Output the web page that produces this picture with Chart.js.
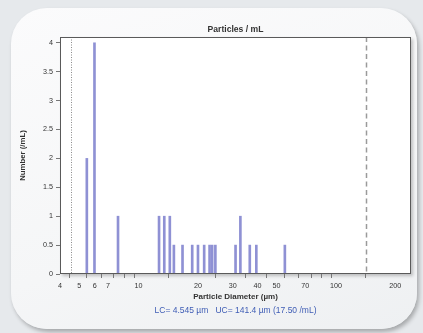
<!DOCTYPE html>
<html>
<head>
<meta charset="utf-8">
<script src="https://cdn.jsdelivr.net/npm/chart.js@4"></script>
<style>
  html, body { margin: 0; padding: 0; }
  body { width: 423px; height: 333px; background: #e6e9ec; position: relative; overflow: hidden; }
  #card {
    position: absolute; left: 11px; top: 8px; width: 406px; height: 321px;
    border-radius: 36px;
    background: linear-gradient(160deg, #fbfbfc 0%, #f5f6f7 60%, #eef0f2 100%);
    box-shadow: 2px 3px 4px rgba(0,0,0,0.28);
  }
  #wrap { position: absolute; left: 0; top: 0; width: 423px; height: 333px; }
</style>
</head>
<body>
<div id="card"></div>
<div id="wrap"><canvas id="chart" width="423" height="333"></canvas></div>
<script>
// Particle counts per diameter bin (µm, particles/mL)
const diameters = [5.47, 5.98, 7.87, 12.7, 13.5, 14.4, 15.1, 16.7, 18.7, 20.0, 21.5, 22.9, 23.6, 24.5, 31.0, 32.8, 36.6, 39.5, 55.1];
const counts    = [2,    4,    1,    1,    1,    1,    0.5,  0.5,  0.5,  0.5,  0.5,  0.5,  0.5,  0.5,  0.5,  1,    0.5,  0.5,  0.5];

// Axis ticks
const xTickValues = [4, 5, 6, 7, 8, 9, 10, 20, 30, 40, 50, 60, 70, 80, 90, 100, 200];
const xTickLabels = [4, 5, 6, 7, 10, 20, 30, 40, 50, 70, 100, 200];
const yTickValues = [0, 0.5, 1, 1.5, 2, 2.5, 3, 3.5, 4];

// Lower / upper counting limits
const lowerLimit = 4.545;
const upperLimit = 141.4;
const totalPerMl = 17.50;

const FONT = "'Liberation Sans', Arial, sans-serif";
const TEXT = '#333333';

const plotFrame = {
  id: 'plotFrame',
  beforeDraw(chart) {
    const { ctx, chartArea: a } = chart;
    ctx.save();
    ctx.shadowColor = 'rgba(0,0,0,0.22)';
    ctx.shadowBlur = 3;
    ctx.shadowOffsetX = 2;
    ctx.shadowOffsetY = 2;
    ctx.fillStyle = '#ffffff';
    ctx.fillRect(a.left, a.top, a.right - a.left, a.bottom - a.top);
    ctx.restore();
  },
  beforeDatasetsDraw(chart) {
    const { ctx, chartArea: a, scales } = chart;
    const xl = Math.round(scales.x.getPixelForValue(lowerLimit)) + 0.5;
    const xu = Math.round(scales.x.getPixelForValue(upperLimit)) + 0.5;
    ctx.save();
    ctx.strokeStyle = '#8a8a8a';
    ctx.lineWidth = 1;
    ctx.setLineDash([1, 1.5]);
    ctx.beginPath(); ctx.moveTo(xl, a.top); ctx.lineTo(xl, a.bottom); ctx.stroke();
    ctx.strokeStyle = '#9a9a9a';
    ctx.lineWidth = 1.5;
    ctx.setLineDash([5, 3.5]);
    ctx.beginPath(); ctx.moveTo(xu, a.top); ctx.lineTo(xu, a.bottom); ctx.stroke();
    ctx.restore();
  },
  afterDraw(chart) {
    const { ctx, chartArea: a } = chart;
    ctx.save();
    ctx.strokeStyle = '#5a5a5a';
    ctx.lineWidth = 1;
    ctx.strokeRect(Math.round(a.left) + 0.5, Math.round(a.top) + 0.5,
                   Math.round(a.right - a.left) - 1, Math.round(a.bottom - a.top) - 1);
    ctx.restore();
  }
};

new Chart(document.getElementById('chart'), {
  type: 'bar',
  data: {
    datasets: [{
      data: diameters.map((d, i) => ({ x: d, y: counts[i] })),
      backgroundColor: '#8f91d4',
      borderWidth: 0,
      barThickness: 2,
      grouped: false
    }]
  },
  options: {
    responsive: false,
    animation: false,
    events: [],
    layout: { padding: { left: 0, right: 12, top: 0, bottom: 0 } },
    plugins: {
      legend: { display: false },
      tooltip: { enabled: false },
      title: {
        display: true,
        fullSize: false,
        text: 'Particles / mL',
        color: TEXT,
        font: { family: FONT, size: 8.6, weight: 'bold' },
        padding: { top: 24.5, bottom: 2.2 }
      },
      subtitle: {
        display: true,
        fullSize: false,
        position: 'bottom',
        text: 'LC= ' + lowerLimit.toFixed(3) + ' µm   UC= ' + upperLimit.toFixed(1) + ' µm (' + totalPerMl.toFixed(2) + ' /mL)',
        color: '#3f5db5',
        font: { family: FONT, size: 8.5 },
        padding: { top: 1.5, bottom: 17.3 }
      }
    },
    scales: {
      x: {
        type: 'logarithmic',
        min: 4,
        max: 240,
        offset: false,
        afterBuildTicks(scale) { scale.ticks = xTickValues.map(v => ({ value: v })); },
        afterFit(scale) { scale.height = 30; },
        ticks: {
          autoSkip: false,
          maxRotation: 0,
          padding: 3.5,
          color: TEXT,
          font: { family: FONT, size: 7.2 },
          callback: (v) => xTickLabels.includes(v) ? String(v) : ''
        },
        grid: { drawOnChartArea: false, drawTicks: true, tickLength: 4, color: '#777777' },
        border: { display: false },
        title: {
          display: true,
          text: 'Particle Diameter (µm)',
          color: TEXT,
          font: { family: FONT, size: 8, weight: 'bold' },
          padding: { top: 0, bottom: 2.2 }
        }
      },
      y: {
        min: 0,
        max: 4.1,
        afterBuildTicks(scale) { scale.ticks = yTickValues.map(v => ({ value: v })); },
        afterFit(scale) { scale.width = 60; },
        ticks: {
          padding: 3,
          color: TEXT,
          font: { family: FONT, size: 7.2 },
          callback: (v) => String(v)
        },
        grid: { drawOnChartArea: false, drawTicks: true, tickLength: 4, color: '#777777' },
        border: { display: false },
        title: {
          display: true,
          text: 'Number (/mL)',
          color: TEXT,
          font: { family: FONT, size: 7.8, weight: 'bold' },
          padding: { top: 18, bottom: 0 }
        }
      }
    }
  },
  plugins: [plotFrame]
});
</script>
</body>
</html>
